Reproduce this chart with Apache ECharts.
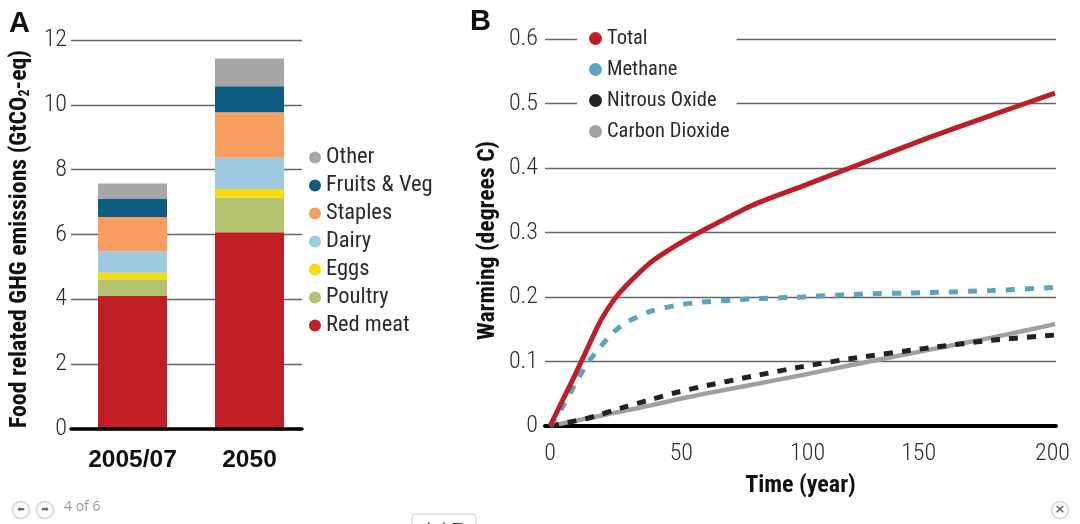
<!DOCTYPE html>
<html>
<head>
<meta charset="utf-8">
<script src="https://cdn.jsdelivr.net/npm/echarts@6/dist/echarts.min.js"></script>
<style>
  html, body { margin: 0; padding: 0; background: #fff; }
  #main { width: 1080px; height: 524px; }
</style>
</head>
<body>
<div id="main"></div>
<script>
// panel A
var periods = ['2005/07', '2050'];
var redMeat = [4.10, 6.07];
var poultry = [0.52, 1.07];
var eggs = [0.20, 0.26];
var dairy = [0.66, 0.97];
var staples = [1.06, 1.40];
var fruitsVeg = [0.57, 0.80];
var other = [0.46, 0.86];

// panel B
var years = [0, 5, 10, 15, 20, 25, 30, 40, 50, 60, 80, 100, 120, 150, 175, 200];
var total = [0, 0.04, 0.08, 0.122, 0.163, 0.194, 0.217, 0.254, 0.28, 0.302, 0.342, 0.372, 0.402, 0.447, 0.482, 0.516];
var methane = [0, 0.03, 0.066, 0.098, 0.123, 0.145, 0.16, 0.178, 0.187, 0.192, 0.197, 0.2, 0.204, 0.207, 0.21, 0.215];
var nitrous = [0, 0.004, 0.008, 0.012, 0.018, 0.024, 0.03, 0.041, 0.052, 0.061, 0.077, 0.092, 0.105, 0.121, 0.133, 0.141];
var carbon = [0, 0.004, 0.008, 0.012, 0.016, 0.02, 0.024, 0.032, 0.041, 0.049, 0.064, 0.079, 0.095, 0.118, 0.137, 0.158];
var timeTicks = ['0', '50', '100', '150', '200'];
// the printed labels are not evenly spaced in the figure
var timeTickSpots = [0, 52, 102, 146, 199];

var narrow = '"Roboto Condensed", "Liberation Sans", sans-serif';
var sans = '"Liberation Sans", sans-serif';
var ink = '#2b2b2b';
var rule = '#666';

function pairs(values) {
  return years.map(function (y, i) { return [y, values[i]]; });
}

function barSeries(name, values, color) {
  return {
    name: name, type: 'bar', stack: 'food', xAxisIndex: 1, yAxisIndex: 1,
    barWidth: 69, data: values, itemStyle: { color: color }
  };
}

function lineSeries(name, values, color, width, dash, z) {
  return {
    name: name, type: 'line', xAxisIndex: 2, yAxisIndex: 2, z: z,
    symbol: 'none', smooth: 0.25, data: pairs(values),
    itemStyle: { color: color },
    lineStyle: { color: color, width: width, type: dash }
  };
}

function button(cx, glyph, size) {
  return [
    { type: 'circle', shape: { cx: cx, cy: 510, r: 8.5 }, style: { fill: '#fff', stroke: '#ddd', lineWidth: 2 } },
    { type: 'text', style: { x: cx, y: 510, text: glyph, fill: '#666', fontSize: size, fontFamily: '"DejaVu Sans"', fontWeight: 'bold', align: 'center', verticalAlign: 'middle' } }
  ];
}

var option = {
  backgroundColor: '#fff',
  animation: false,
  title: [
    { text: 'A', left: 9, top: 9, padding: 0, textStyle: { fontFamily: sans, fontWeight: 'bold', fontSize: 29, color: '#111' } },
    { text: 'B', left: 470, top: 7, padding: 0, textStyle: { fontFamily: sans, fontWeight: 'bold', fontSize: 29, color: '#111' } }
  ],
  legend: [
    {
      orient: 'vertical', left: 303, top: 146, padding: [0, 0, 0, 6], itemGap: 5,
      itemWidth: 12, itemHeight: 12, icon: 'circle',
      data: ['Other', 'Fruits & Veg', 'Staples', 'Dairy', 'Eggs', 'Poultry', 'Red meat'],
      textStyle: { fontFamily: narrow, fontSize: 22.5, color: ink }
    },
    {
      orient: 'vertical', left: 577, top: 26, padding: [2, 7, 2, 12], itemGap: 10,
      itemWidth: 13, itemHeight: 13, icon: 'circle', backgroundColor: '#fff',
      data: ['Total', 'Methane', 'Nitrous Oxide', 'Carbon Dioxide'],
      textStyle: { fontFamily: narrow, fontSize: 20.5, color: ink }
    }
  ],
  grid: [
    { left: 71, top: 40, width: 231, height: 389 },
    { left: 74, top: 40, width: 234, height: 389 },
    { left: 545, top: 39, width: 511, height: 387 }
  ],
  xAxis: [
    {
      type: 'value', gridIndex: 0, min: 0, max: 1, z: 5,
      axisLine: { show: true, lineStyle: { color: '#000', width: 3.5 } },
      axisTick: { show: false }, axisLabel: { show: false }, splitLine: { show: false }
    },
    {
      type: 'category', gridIndex: 1, data: periods,
      axisLine: { show: false }, axisTick: { show: false },
      axisLabel: { margin: 19, fontFamily: sans, fontWeight: 'bold', fontSize: 24.5, color: '#111' }
    },
    {
      type: 'value', gridIndex: 2, min: -2, max: 200.4, z: 1,
      name: 'Time (year)', nameLocation: 'middle', nameGap: 48,
      nameTextStyle: { fontFamily: narrow, fontWeight: 'bold', fontSize: 24, color: '#111' },
      axisLine: { show: true, onZero: false, lineStyle: { color: '#000', width: 4 } },
      axisTick: { show: false }, splitLine: { show: false },
      axisLabel: {
        customValues: timeTickSpots, margin: 16, fontFamily: narrow, fontWeight: 300, fontSize: 24, color: ink,
        formatter: function (value) { return timeTicks[timeTickSpots.indexOf(+value)]; }
      }
    }
  ],
  yAxis: [
    {
      type: 'value', gridIndex: 0, min: 0, max: 12, interval: 2,
      name: '{t|Food related GHG emissions (GtCO}{s|2}{t|-eq)}', nameLocation: 'middle', nameGap: 39,
      nameTextStyle: {
        padding: [0, 9, 0, 0],
        rich: {
          t: { fontFamily: narrow, fontWeight: 'bold', fontSize: 23.8, color: '#111' },
          s: { fontFamily: narrow, fontWeight: 'bold', fontSize: 14, color: '#111', verticalAlign: 'bottom', padding: [8, 0, 0, 0] }
        }
      },
      axisLine: { show: false }, axisTick: { show: false },
      axisLabel: { margin: 4, padding: [6, 0, 0, 0], fontFamily: narrow, fontWeight: 300, fontSize: 24, color: ink },
      splitLine: { lineStyle: { color: rule, width: 1.3 } }
    },
    {
      type: 'value', gridIndex: 1, min: 0, max: 12, interval: 2, show: false, splitLine: { show: false }
    },
    {
      type: 'value', gridIndex: 2, min: 0, max: 0.6, interval: 0.1,
      name: 'Warming (degrees C)', nameLocation: 'middle', nameGap: 45,
      nameTextStyle: { padding: [0, 16, 0, 0], fontFamily: narrow, fontWeight: 'bold', fontSize: 23.7, color: '#111' },
      axisLine: { show: false }, axisTick: { show: false },
      axisLabel: { margin: 7, padding: [6, 0, 0, 0], fontFamily: narrow, fontWeight: 300, fontSize: 24, color: ink },
      splitLine: { lineStyle: { color: rule, width: 1.3 } }
    }
  ],
  series: [
    barSeries('Red meat', redMeat, '#c11f25'),
    barSeries('Poultry', poultry, '#b5c26f'),
    barSeries('Eggs', eggs, '#f9dc0f'),
    barSeries('Dairy', dairy, '#9ecae1'),
    barSeries('Staples', staples, '#f79e60'),
    barSeries('Fruits & Veg', fruitsVeg, '#0b5c80'),
    barSeries('Other', other, '#a7a7a9'),
    lineSeries('Carbon Dioxide', carbon, '#a0a0a2', 4.5, 'solid', 2),
    lineSeries('Nitrous Oxide', nitrous, '#222', 5, [9, 9], 3),
    lineSeries('Methane', methane, '#5ba3bf', 5, [9, 10], 4),
    lineSeries('Total', total, '#bb2029', 5, 'solid', 5)
  ],
  graphic: button(21, '\u2b05', 9).concat(button(45, '\u27a1', 9), button(1060, '\u00d7', 13), [
    { type: 'text', style: { x: 64, y: 507, text: '4 of 6', fill: '#999', fontSize: 14, fontFamily: '"Open Sans", sans-serif', verticalAlign: 'middle' } },
    { type: 'rect', shape: { x: 412, y: 514, width: 64, height: 20, r: 4 }, style: { fill: '#fff', stroke: '#ddd', lineWidth: 1.5 } },
    { type: 'text', style: { x: 444, y: 529, text: '名字录', fill: '#444', fontSize: 14, fontFamily: '"Noto Sans CJK SC"', align: 'center', verticalAlign: 'middle' } }
  ])
};

var myChart = echarts.init(document.getElementById('main'));
myChart.setOption(option);
</script>
</body>
</html>
